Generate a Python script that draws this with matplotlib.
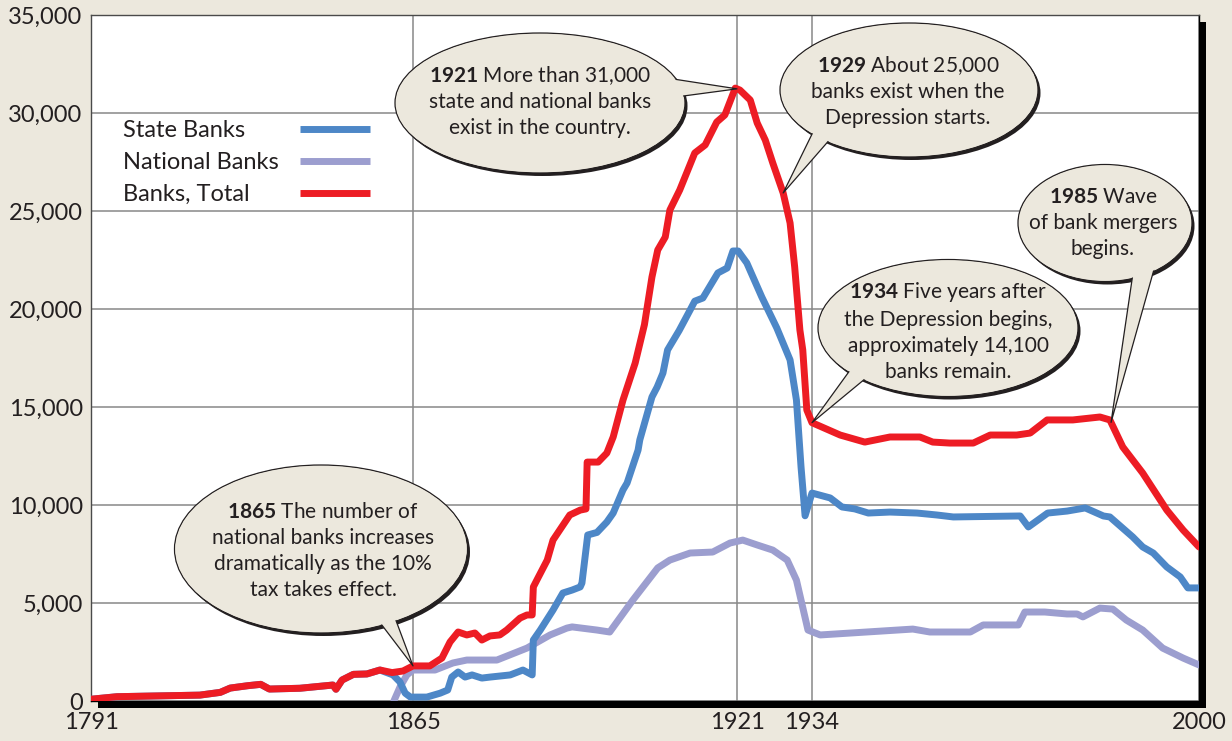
import numpy as np
import matplotlib
matplotlib.use('Agg')
import matplotlib.pyplot as plt
from matplotlib.patches import Ellipse, Rectangle

# ---------------- data ----------------
total_years = [1791, 1797, 1816, 1820.7, 1823, 1827, 1830, 1832, 1839, 1846.6, 1847.3, 1848.7,
               1851.3, 1854.4, 1857.4, 1860.2, 1862.7, 1865, 1867.9, 1870, 1871.4, 1872.8,
               1874.3, 1875.7, 1876.9, 1878.3, 1880, 1881.2, 1883.5, 1884.7, 1885.6, 1885.8,
               1886.6, 1888.2, 1889.2, 1892.1, 1893.9, 1894.9, 1895.1, 1897, 1898.5, 1899.6,
               1901.3, 1903.4, 1905, 1906.3, 1907.3, 1908.6, 1909.4, 1911.1, 1913.7, 1915.5,
               1917.5, 1918.9, 1920.7, 1921.5, 1923.3, 1924.5, 1925.9, 1927.2, 1929, 1930.2,
               1931, 1931.9, 1932.4, 1933.1, 1934, 1938.8, 1943, 1947.3, 1952.4, 1954.6,
               1957.5, 1961.5, 1964.4, 1968.9, 1971.2, 1974.1, 1978.5, 1983.1, 1984.8, 1987,
               1990.4, 1994.5, 1997.3, 2000]
total_banks = [90, 220, 300, 440, 660, 780, 850, 610, 650, 815, 600, 1070,
               1360, 1380, 1580, 1450, 1530, 1790, 1790, 2190, 3010, 3520,
               3370, 3470, 3110, 3320, 3370, 3620, 4230, 4390, 4390, 5820,
               6280, 7190, 8210, 9490, 9740, 9800, 12190, 12190, 12650, 13470,
               15360, 17240, 19200, 21630, 23010, 23670, 25050, 26070, 27960, 28370,
               29540, 29900, 31270, 31170, 30660, 29490, 28620, 27450, 25920, 24390,
               22140, 18930, 17910, 14850, 14200, 13570, 13210, 13470, 13470, 13210,
               13160, 13160, 13570, 13570, 13670, 14340, 14340, 14490, 14340, 12960,
               11630, 9745, 8720, 7860]

state_years = [1791, 1797, 1816, 1820.7, 1823, 1827, 1830, 1832, 1839, 1846.6, 1847.3, 1848.7,
               1851.3, 1854.4, 1857.4, 1860.4, 1862, 1863.2, 1864.4, 1867.4, 1869.7, 1871,
               1871.7, 1872.8, 1874, 1875.2, 1876.9, 1878.3, 1881.8, 1884, 1885.6, 1885.8,
               1887, 1889.2, 1890.9, 1892.5, 1893.9, 1894.2, 1895.2, 1896.8, 1898.5, 1899.6,
               1901.3, 1902, 1903.9, 1904.2, 1906.3, 1907.2, 1908.2, 1909, 1911, 1912.9,
               1913.7, 1915.1, 1917.7, 1919.3, 1920.3, 1921.2, 1922.7, 1925.3, 1927.9, 1930.2,
               1931.3, 1932.1, 1932.8, 1934, 1937.1, 1939.1, 1941.3, 1943.6, 1947.3, 1951.9,
               1955.3, 1958.1, 1969.5, 1970.9, 1974.2, 1977.5, 1980.6, 1983.7, 1984.8, 1988.7,
               1990.4, 1992.2, 1994.5, 1996.8, 1998.1, 2000]
state_banks = [90, 220, 300, 440, 660, 780, 850, 610, 650, 815, 600, 1070,
               1360, 1380, 1580, 1330, 970, 400, 200, 200, 400, 560,
               1220, 1480, 1220, 1330, 1170, 1220, 1330, 1580, 1330, 3110,
               3620, 4640, 5510, 5660, 5820, 6020, 8470, 8600, 9130, 9590,
               10770, 11120, 12800, 13320, 15510, 16020, 16730, 17910, 18900, 19950,
               20400, 20560, 21840, 22090, 22960, 22960, 22350, 20610, 19030, 17400,
               15360, 11940, 9450, 10610, 10360, 9900, 9800, 9590, 9640, 9590,
               9490, 9390, 9440, 8880, 9590, 9690, 9850, 9440, 9390, 8370,
               7860, 7550, 6840, 6330, 5770, 5770]

national_years = [1860.6, 1862, 1863.6, 1865, 1868.8, 1871.9, 1874.3, 1879.5, 1883, 1884.7,
                  1888.7, 1891.6, 1892.5, 1896.8, 1899, 1903, 1907.3, 1909.4, 1912.9, 1916.8,
                  1919.8, 1922, 1924.5, 1927.2, 1929.7, 1931.3, 1933.3, 1935.4, 1943.3, 1951.2,
                  1954.1, 1961, 1963.2, 1969.2, 1970.3, 1973.7, 1977.5, 1979.2, 1980.2, 1983.1,
                  1985.3, 1987.6, 1990.4, 1993.8, 1997.3, 2000]
national_banks = [0, 710, 1330, 1580, 1580, 1940, 2090, 2090, 2500, 2700,
                  3370, 3720, 3780, 3620, 3520, 5150, 6790, 7190, 7550, 7600,
                  8060, 8210, 7960, 7700, 7190, 6170, 3620, 3370, 3520, 3670,
                  3520, 3520, 3880, 3880, 4540, 4540, 4440, 4440, 4290, 4740,
                  4690, 4130, 3620, 2700, 2190, 1840]

series_labels = ['State Banks', 'National Banks', 'Banks, Total']
x_tick_years = [1791, 1865, 1921, 1934, 2000]
y_ticks = [0, 5000, 10000, 15000, 20000, 25000, 30000, 35000]

annotation_years = [1921, 1929, 1985, 1934, 1865]
annotation_texts = [
    "$\\mathbf{1921}$ More than 31,000\nstate and national banks\nexist in the country.",
    "$\\mathbf{1929}$ About 25,000\nbanks exist when the\nDepression starts.",
    "$\\mathbf{1985}$ Wave\nof bank mergers\nbegins.",
    "$\\mathbf{1934}$ Five years after\nthe Depression begins,\napproximately 14,100\nbanks remain.",
    "$\\mathbf{1865}$ The number of\nnational banks increases\ndramatically as the 10%\ntax takes effect.",
]

# ---------------- style ----------------
BG = '#ece8dd'
BUB = '#ece8dd'
TXT = '#231f20'
RED = '#ed1c24'
BLUE = '#4d87c7'
PURPLE = '#9c9ecf'
GRID = '#888888'

plt.rcParams['font.family'] = ['Lato', 'DejaVu Sans']
plt.rcParams['mathtext.fontset'] = 'custom'
plt.rcParams['mathtext.rm'] = 'Lato'
plt.rcParams['mathtext.bf'] = 'Lato:bold'
plt.rcParams['mathtext.it'] = 'Lato:italic'

W, H = 1232, 741
AX_L, AX_R, AX_T, AX_B = 91, 1199, 15, 701

fig = plt.figure(figsize=(W / 100, H / 100), dpi=100, facecolor=BG)
ax = fig.add_axes([AX_L / W, 1 - AX_B / H, (AX_R - AX_L) / W, (AX_B - AX_T) / H])
ax.set_facecolor('white')

# drop shadow of plot frame
fig.add_artist(Rectangle((98 / W, 1 - 708 / H), (1206 - 98) / W, (708 - 22) / H,
                         transform=fig.transFigure, fc='black', ec='none', zorder=-1))

# piecewise-linear x axis (the period before 1865 is compressed)
knot_pos = [0, 322, 646, 721, 1108]
fwd = lambda x: np.interp(x, x_tick_years, knot_pos)
inv = lambda p: np.interp(p, knot_pos, x_tick_years)
ax.set_xscale('function', functions=(fwd, inv))
ax.set_xlim(1791, 2000)
ax.set_ylim(0, 35000)
ax.set_xticks(x_tick_years)
ax.set_xticklabels([str(y) for y in x_tick_years])
ax.set_yticks(y_ticks)
ax.set_yticklabels([f'{v:,}' for v in y_ticks])
ax.tick_params(axis='both', length=0, labelsize=17, labelcolor=TXT)
ax.tick_params(axis='y', pad=6)
ax.tick_params(axis='x', pad=8)
ax.grid(True, color=GRID, lw=1.1)
ax.set_axisbelow(True)
for s in ['top', 'left']:
    ax.spines[s].set_color('#4a4a4a')
    ax.spines[s].set_linewidth(1.0)
for s in ['bottom', 'right']:
    ax.spines[s].set_color('black')
    ax.spines[s].set_linewidth(1.0)

LW = 5
l_nat, = ax.plot(national_years, national_banks, color=PURPLE, lw=LW, zorder=3,
                 solid_joinstyle='round', solid_capstyle='round', label=series_labels[1])
l_state, = ax.plot(state_years, state_banks, color=BLUE, lw=LW, zorder=3.5,
                   solid_joinstyle='round', solid_capstyle='round', label=series_labels[0])
l_tot, = ax.plot(total_years, total_banks, color=RED, lw=LW, zorder=4,
                 solid_joinstyle='round', solid_capstyle='round', label=series_labels[2])

def px2ax(px, py):
    return ((px - AX_L) / (AX_R - AX_L), (AX_B - py) / (AX_B - AX_T))

# legend: left-aligned labels, swatches in a common column to the right
handles = [l_state, l_nat, l_tot]
common = dict(loc='upper left', frameon=False, fontsize=17, labelspacing=0.47,
              borderpad=0, borderaxespad=0, markerfirst=True)
leg_text = ax.legend(handles=handles, labels=series_labels, bbox_to_anchor=px2ax(123, 120),
                     handlelength=0, handletextpad=0, **common)
for t in leg_text.get_texts():
    t.set_color(TXT)
for hnd in leg_text.legend_handles:
    hnd.set_visible(False)
ax.add_artist(leg_text)
leg_sw = ax.legend(handles=handles, labels=['', '', ''], bbox_to_anchor=px2ax(300, 120),
                   handlelength=2.97, handletextpad=0, **common)
for ln in leg_sw.get_lines():
    ln.set_solid_capstyle('butt')

# bubble layout (pixel positions): centre, size, text centre, tail base, tail width
bubbles = [
    dict(c=(540, 103), s=(290, 140), t=(540, 101), base=(655, 88), tw=17),
    dict(c=(909, 90), s=(258, 134), t=(908, 91), base=(827, 127), tw=15),
    dict(c=(1105, 223), s=(174, 117), t=(1103, 223), base=(1145, 263), tw=15),
    dict(c=(948, 328), s=(260, 137), t=(948, 331), base=(868, 363), tw=15),
    dict(c=(321, 549), s=(293, 168), t=(323, 551), base=(381, 608), tw=14),
]

AW = AX_R - AX_L
AH = AX_B - AX_T
for yr, txt, b in zip(annotation_years, annotation_texts, bubbles):
    cx, cy = b['c']
    w, h = b['s']
    tip = (yr, float(np.interp(yr, total_years, total_banks)))
    ax.add_patch(Ellipse(px2ax(cx + 2.5, cy + 3), w / AW, h / AH, transform=ax.transAxes,
                         fc=TXT, ec='none', zorder=6))
    ax.add_patch(Ellipse(px2ax(cx, cy), w / AW, h / AH, transform=ax.transAxes,
                         fc=BUB, ec=TXT, lw=0.9, zorder=6.5))
    ax.annotate('', xy=tip, xycoords='data', xytext=px2ax(*b['base']),
                textcoords='axes fraction', annotation_clip=False,
                arrowprops=dict(arrowstyle=f"wedge,tail_width={b['tw']},shrink_factor=0.5",
                                fc=BUB, ec=TXT, lw=0.9, mutation_scale=1,
                                shrinkA=0, shrinkB=0),
                zorder=7)
    ax.add_patch(Ellipse(px2ax(cx, cy), (w - 2) / AW, (h - 2) / AH, transform=ax.transAxes,
                         fc=BUB, ec='none', zorder=8))
    ax.text(*px2ax(*b['t']), txt, transform=ax.transAxes, ha='center', va='center',
            multialignment='center', fontsize=15, linespacing=1.36, color=TXT, zorder=9)

fig.savefig('out.png', dpi=100, facecolor=BG)
